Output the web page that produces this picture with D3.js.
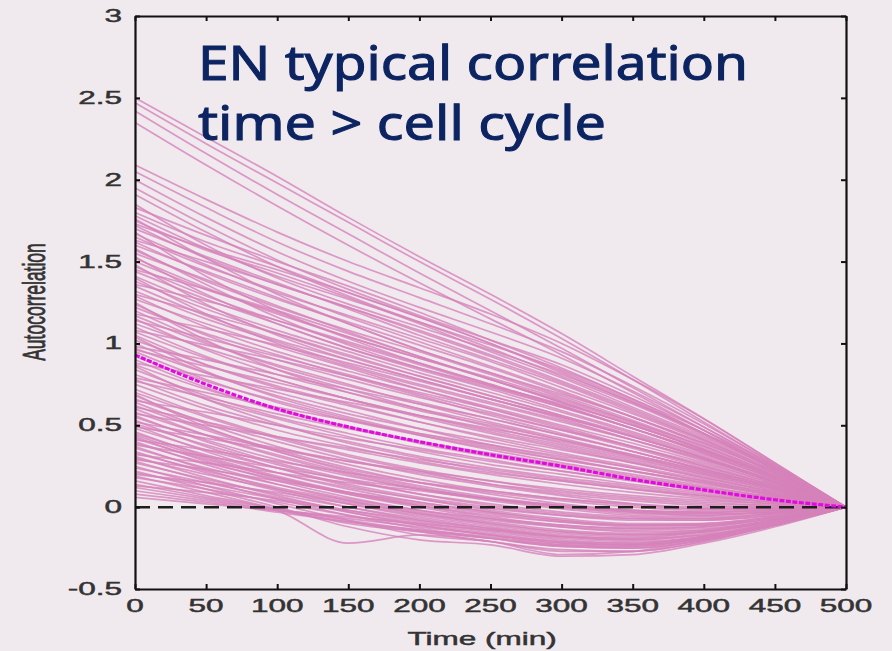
<!DOCTYPE html>
<html>
<head>
    <meta charset="utf-8" />
    <script src="https://cdn.jsdelivr.net/npm/d3@7/dist/d3.min.js"></script>
    <style>
        body { margin: 0; background: #f0e9ee; }
        svg { display: block; }
        .lbl { font-family: "Liberation Sans", Arial, sans-serif; font-size: 17.5px; fill: #333; stroke: #333; stroke-width: 0.45px; }
        .title { font-family: "Comic Sans MS", "Noto Sans", sans-serif; font-size: 48px; fill: #0c2461; stroke: #0c2461; stroke-width: 1px; }
    </style>
</head>
<body>
<script>
    // lag times (min) at which every trace is sampled
    var lags = [0, 50, 100, 150, 200, 250, 300, 350, 400, 450, 500];
    var xTicks = [0, 50, 100, 150, 200, 250, 300, 350, 400, 450, 500];
    var yTicks = [-0.5, 0, 0.5, 1, 1.5, 2, 2.5, 3];

    // highest starting traces
    var topTraces = [
        [2.50, 2.26, 2.02, 1.77, 1.53, 1.30, 1.06, 0.80, 0.54, 0.27, 0],
        [2.47, 2.22, 1.98, 1.74, 1.50, 1.27, 1.03, 0.78, 0.52, 0.26, 0],
        [2.42, 2.16, 1.91, 1.67, 1.43, 1.20, 0.97, 0.73, 0.49, 0.25, 0],
        [2.35, 2.09, 1.84, 1.60, 1.37, 1.15, 0.93, 0.70, 0.47, 0.23, 0],
        [2.09, 1.88, 1.68, 1.50, 1.34, 1.18, 1.00, 0.78, 0.54, 0.27, 0],
        [2.05, 1.83, 1.62, 1.44, 1.28, 1.12, 0.95, 0.74, 0.51, 0.26, 0],
        [2.00, 1.77, 1.56, 1.38, 1.22, 1.07, 0.91, 0.71, 0.49, 0.25, 0],
        [1.95, 1.72, 1.51, 1.33, 1.17, 1.02, 0.87, 0.68, 0.47, 0.24, 0],
        [1.91, 1.68, 1.47, 1.29, 1.13, 0.99, 0.84, 0.66, 0.45, 0.23, 0]
    ];

    // traces starting between about 1.85 and 1.3
    var upperTraces = [
        [1.83, 1.66, 1.50, 1.35, 1.19, 1.02, 0.85, 0.66, 0.47, 0.25, 0],
        [1.80, 1.62, 1.47, 1.31, 1.16, 1.00, 0.82, 0.64, 0.45, 0.24, 0],
        [1.78, 1.58, 1.41, 1.27, 1.13, 0.97, 0.80, 0.63, 0.44, 0.23, 0],
        [1.76, 1.52, 1.30, 1.12, 0.96, 0.82, 0.69, 0.55, 0.39, 0.21, 0],
        [1.75, 1.57, 1.43, 1.28, 1.12, 0.95, 0.79, 0.61, 0.43, 0.23, 0],
        [1.72, 1.52, 1.36, 1.22, 1.08, 0.93, 0.77, 0.60, 0.42, 0.22, 0],
        [1.70, 1.53, 1.37, 1.21, 1.05, 0.90, 0.75, 0.58, 0.41, 0.22, 0],
        [1.68, 1.41, 1.20, 1.04, 0.91, 0.79, 0.66, 0.52, 0.37, 0.19, 0],
        [1.67, 1.48, 1.31, 1.17, 1.03, 0.89, 0.73, 0.57, 0.40, 0.21, 0],
        [1.65, 1.47, 1.32, 1.16, 1.01, 0.86, 0.71, 0.55, 0.39, 0.21, 0],
        [1.62, 1.43, 1.27, 1.13, 0.99, 0.85, 0.70, 0.55, 0.38, 0.20, 0],
        [1.60, 1.44, 1.28, 1.12, 0.96, 0.82, 0.68, 0.53, 0.37, 0.20, 0],
        [1.58, 1.36, 1.16, 0.99, 0.85, 0.73, 0.61, 0.48, 0.34, 0.18, 0],
        [1.57, 1.38, 1.22, 1.08, 0.95, 0.81, 0.67, 0.52, 0.36, 0.19, 0],
        [1.55, 1.39, 1.23, 1.07, 0.92, 0.78, 0.65, 0.51, 0.35, 0.19, 0],
        [1.52, 1.34, 1.18, 1.04, 0.91, 0.78, 0.64, 0.50, 0.35, 0.18, 0],
        [1.50, 1.33, 1.19, 1.03, 0.88, 0.75, 0.62, 0.48, 0.34, 0.18, 0],
        [1.48, 1.24, 1.05, 0.90, 0.78, 0.66, 0.55, 0.43, 0.30, 0.16, 0],
        [1.47, 1.29, 1.14, 1.00, 0.87, 0.74, 0.61, 0.48, 0.33, 0.17, 0],
        [1.44, 1.27, 1.12, 0.97, 0.84, 0.72, 0.59, 0.46, 0.32, 0.17, 0],
        [1.41, 1.23, 1.08, 0.95, 0.82, 0.70, 0.58, 0.45, 0.31, 0.16, 0],
        [1.38, 1.21, 1.06, 0.92, 0.80, 0.68, 0.56, 0.44, 0.30, 0.16, 0],
        [1.36, 1.26, 1.14, 1.01, 0.88, 0.75, 0.62, 0.48, 0.33, 0.17, 0],
        [1.35, 1.17, 1.02, 0.90, 0.78, 0.66, 0.55, 0.43, 0.30, 0.15, 0],
        [1.32, 1.15, 1.01, 0.87, 0.75, 0.64, 0.53, 0.41, 0.29, 0.15, 0]
    ];

    // traces starting between about 1.3 and 0.75
    var middleTraces = [
        [1.29, 1.10, 0.95, 0.83, 0.72, 0.61, 0.50, 0.39, 0.27, 0.14, 0],
        [1.27, 1.12, 0.98, 0.85, 0.72, 0.60, 0.48, 0.37, 0.26, 0.13, 0],
        [1.24, 1.05, 0.90, 0.78, 0.67, 0.57, 0.47, 0.37, 0.25, 0.13, 0],
        [1.22, 1.06, 0.93, 0.80, 0.68, 0.56, 0.45, 0.34, 0.23, 0.12, 0],
        [1.20, 1.01, 0.86, 0.74, 0.64, 0.54, 0.44, 0.34, 0.23, 0.12, 0],
        [1.18, 1.09, 0.99, 0.88, 0.77, 0.66, 0.54, 0.41, 0.28, 0.14, 0],
        [1.17, 1.00, 0.87, 0.75, 0.63, 0.52, 0.42, 0.32, 0.22, 0.11, 0],
        [1.15, 0.96, 0.81, 0.70, 0.60, 0.51, 0.41, 0.31, 0.21, 0.11, 0],
        [1.12, 0.97, 0.84, 0.72, 0.60, 0.49, 0.39, 0.30, 0.20, 0.10, 0],
        [1.10, 0.92, 0.78, 0.66, 0.56, 0.47, 0.38, 0.29, 0.20, 0.10, 0],
        [1.08, 0.99, 0.90, 0.80, 0.70, 0.60, 0.49, 0.37, 0.25, 0.13, 0],
        [1.07, 0.91, 0.78, 0.66, 0.55, 0.45, 0.36, 0.27, 0.18, 0.09, 0],
        [1.05, 0.87, 0.73, 0.62, 0.52, 0.43, 0.35, 0.27, 0.18, 0.09, 0],
        [1.02, 0.87, 0.74, 0.63, 0.52, 0.42, 0.33, 0.25, 0.17, 0.08, 0],
        [1.00, 0.82, 0.68, 0.57, 0.48, 0.40, 0.32, 0.24, 0.16, 0.08, 0],
        [0.98, 0.90, 0.81, 0.72, 0.63, 0.54, 0.44, 0.34, 0.23, 0.12, 0],
        [0.97, 0.82, 0.70, 0.59, 0.48, 0.38, 0.30, 0.22, 0.15, 0.07, 0],
        [0.95, 0.78, 0.64, 0.53, 0.44, 0.36, 0.29, 0.22, 0.14, 0.07, 0],
        [0.92, 0.77, 0.65, 0.54, 0.44, 0.35, 0.27, 0.20, 0.13, 0.06, 0],
        [0.90, 0.73, 0.59, 0.49, 0.40, 0.33, 0.26, 0.19, 0.12, 0.06, 0],
        [0.88, 0.80, 0.72, 0.64, 0.56, 0.48, 0.40, 0.31, 0.21, 0.11, 0],
        [0.87, 0.72, 0.60, 0.49, 0.39, 0.31, 0.24, 0.17, 0.11, 0.05, 0],
        [0.84, 0.68, 0.55, 0.45, 0.36, 0.29, 0.22, 0.16, 0.10, 0.05, 0],
        [0.81, 0.66, 0.54, 0.43, 0.34, 0.26, 0.20, 0.14, 0.09, 0.04, 0],
        [0.79, 0.70, 0.61, 0.53, 0.45, 0.38, 0.31, 0.24, 0.16, 0.08, 0],
        [0.78, 0.62, 0.50, 0.40, 0.31, 0.24, 0.18, 0.13, 0.08, 0.04, 0],
        [0.75, 0.60, 0.47, 0.37, 0.28, 0.21, 0.16, 0.11, 0.07, 0.03, 0]
    ];

    // low starting traces, most of them dipping below zero
    var lowerTraces = [
        [0.72, 0.56, 0.43, 0.32, 0.23, 0.16, 0.10, 0.06, 0.03, 0.01, 0],
        [0.70, 0.55, 0.42, 0.31, 0.22, 0.14, 0.08, 0.04, 0.01, 0.00, 0],
        [0.68, 0.51, 0.37, 0.26, 0.17, 0.10, 0.05, 0.01, -0.01, -0.01, 0],
        [0.66, 0.52, 0.40, 0.29, 0.20, 0.13, 0.07, 0.02, -0.01, -0.01, 0],
        [0.65, 0.58, 0.50, 0.42, 0.35, 0.28, 0.22, 0.16, 0.10, 0.05, 0],
        [0.64, 0.48, 0.35, 0.24, 0.15, 0.08, 0.02, -0.02, -0.04, -0.03, 0],
        [0.62, 0.47, 0.34, 0.23, 0.15, 0.09, 0.04, 0.00, -0.02, -0.02, 0],
        [0.60, 0.44, 0.31, 0.20, 0.11, 0.04, -0.01, -0.05, -0.06, -0.04, 0],
        [0.58, 0.44, 0.32, 0.21, 0.12, 0.05, 0.00, -0.03, -0.05, -0.03, 0],
        [0.57, 0.50, 0.43, 0.36, 0.29, 0.23, 0.17, 0.12, 0.07, 0.03, 0],
        [0.56, 0.40, 0.27, 0.17, 0.08, 0.01, -0.04, -0.07, -0.08, -0.05, 0],
        [0.55, 0.41, 0.29, 0.19, 0.11, 0.05, 0.01, -0.02, -0.03, -0.02, 0],
        [0.53, 0.37, 0.24, 0.13, 0.05, -0.02, -0.07, -0.10, -0.10, -0.06, 0],
        [0.51, 0.38, 0.26, 0.16, 0.08, 0.02, -0.03, -0.06, -0.07, -0.04, 0],
        [0.50, 0.34, 0.21, 0.11, 0.03, -0.03, -0.08, -0.11, -0.11, -0.07, 0],
        [0.49, 0.42, 0.35, 0.28, 0.22, 0.16, 0.11, 0.07, 0.04, 0.02, 0],
        [0.48, 0.35, 0.24, 0.14, 0.06, 0.00, -0.05, -0.08, -0.08, -0.05, 0],
        [0.46, 0.31, 0.19, 0.09, 0.01, -0.06, -0.11, -0.13, -0.12, -0.07, 0],
        [0.45, 0.32, 0.21, 0.12, 0.05, -0.01, -0.05, -0.07, -0.07, -0.04, 0],
        [0.43, 0.28, 0.16, 0.06, -0.02, -0.08, -0.12, -0.14, -0.13, -0.08, 0],
        [0.42, 0.29, 0.18, 0.09, 0.02, -0.04, -0.09, -0.12, -0.11, -0.06, 0],
        [0.41, 0.35, 0.28, 0.21, 0.15, 0.10, 0.05, 0.02, 0.00, 0.00, 0],
        [0.40, 0.26, 0.14, 0.04, -0.04, -0.10, -0.15, -0.17, -0.15, -0.09, 0],
        [0.39, 0.27, 0.17, 0.08, 0.01, -0.05, -0.09, -0.11, -0.10, -0.06, 0],
        [0.37, 0.23, 0.11, 0.02, -0.06, -0.12, -0.17, -0.19, -0.17, -0.10, 0],
        [0.36, 0.24, 0.14, 0.05, -0.02, -0.07, -0.11, -0.13, -0.12, -0.07, 0],
        [0.34, 0.21, 0.10, 0.00, -0.08, -0.14, -0.19, -0.21, -0.18, -0.10, 0],
        [0.33, 0.22, 0.12, 0.04, -0.03, -0.09, -0.14, -0.16, -0.14, -0.08, 0],
        [0.32, 0.27, 0.21, 0.15, 0.10, 0.05, 0.01, -0.02, -0.03, -0.02, 0],
        [0.31, 0.18, 0.07, -0.03, -0.11, -0.17, -0.22, -0.23, -0.19, -0.10, 0],
        [0.30, 0.20, 0.11, 0.03, -0.04, -0.10, -0.15, -0.17, -0.15, -0.08, 0],
        [0.28, 0.16, 0.05, -0.05, -0.13, -0.19, -0.24, -0.25, -0.20, -0.11, 0],
        [0.27, 0.17, 0.08, 0.00, -0.07, -0.13, -0.18, -0.20, -0.17, -0.09, 0],
        [0.25, 0.13, 0.02, -0.08, -0.17, -0.21, -0.27, -0.27, -0.21, -0.11, 0],
        [0.24, 0.15, 0.06, -0.02, -0.09, -0.15, -0.20, -0.22, -0.18, -0.10, 0],
        [0.22, 0.11, 0.00, -0.12, -0.20, -0.23, -0.30, -0.29, -0.22, -0.12, 0],
        [0.21, 0.13, 0.05, -0.03, -0.10, -0.16, -0.21, -0.23, -0.19, -0.10, 0],
        [0.19, 0.09, -0.01, -0.10, -0.15, -0.19, -0.23, -0.24, -0.19, -0.10, 0],
        [0.18, 0.11, 0.03, -0.05, -0.11, -0.17, -0.22, -0.23, -0.18, -0.10, 0],
        [0.16, 0.07, -0.02, -0.22, -0.17, -0.21, -0.29, -0.27, -0.20, -0.11, 0],
        [0.14, 0.06, -0.01, -0.08, -0.14, -0.19, -0.24, -0.25, -0.20, -0.11, 0],
        [0.12, 0.05, -0.02, -0.09, -0.15, -0.21, -0.26, -0.27, -0.21, -0.11, 0],
        [0.10, 0.04, -0.02, -0.07, -0.12, -0.17, -0.21, -0.22, -0.18, -0.09, 0],
        [0.08, 0.03, -0.03, -0.09, -0.14, -0.18, -0.23, -0.24, -0.19, -0.10, 0],
        [0.06, 0.02, -0.02, -0.06, -0.10, -0.14, -0.18, -0.19, -0.15, -0.08, 0]
    ];

    // traces that cross their neighbours (flatter or steeper starts)
    var crossingTraces = [
        [1.85, 1.60, 1.40, 1.24, 1.10, 0.96, 0.81, 0.64, 0.45, 0.24, 0],
        [1.73, 1.58, 1.45, 1.31, 1.16, 1.00, 0.83, 0.65, 0.45, 0.23, 0],
        [1.63, 1.50, 1.36, 1.22, 1.07, 0.92, 0.76, 0.59, 0.41, 0.21, 0],
        [1.53, 1.30, 1.12, 0.97, 0.85, 0.74, 0.63, 0.50, 0.35, 0.18, 0],
        [1.45, 1.33, 1.20, 1.06, 0.92, 0.78, 0.64, 0.50, 0.35, 0.18, 0],
        [1.40, 1.18, 1.00, 0.86, 0.74, 0.63, 0.52, 0.41, 0.29, 0.15, 0],
        [1.30, 1.18, 1.06, 0.93, 0.80, 0.68, 0.56, 0.43, 0.30, 0.15, 0],
        [1.25, 1.02, 0.84, 0.70, 0.59, 0.50, 0.41, 0.32, 0.22, 0.11, 0],
        [1.14, 1.03, 0.92, 0.81, 0.69, 0.58, 0.47, 0.36, 0.24, 0.12, 0],
        [1.04, 0.83, 0.67, 0.55, 0.45, 0.37, 0.29, 0.22, 0.15, 0.07, 0],
        [0.96, 0.86, 0.76, 0.66, 0.56, 0.46, 0.37, 0.28, 0.19, 0.09, 0],
        [0.86, 0.66, 0.51, 0.39, 0.30, 0.22, 0.16, 0.11, 0.06, 0.03, 0],
        [0.77, 0.67, 0.57, 0.48, 0.40, 0.32, 0.25, 0.18, 0.12, 0.06, 0],
        [0.69, 0.49, 0.34, 0.22, 0.13, 0.06, 0.01, -0.03, -0.04, -0.03, 0],
        [0.61, 0.52, 0.43, 0.35, 0.27, 0.20, 0.14, 0.09, 0.05, 0.02, 0],
        [0.52, 0.44, 0.36, 0.28, 0.21, 0.14, 0.09, 0.05, 0.02, 0.01, 0],
        [0.44, 0.30, 0.18, 0.08, 0.00, -0.07, -0.12, -0.15, -0.14, -0.08, 0],
        [0.38, 0.31, 0.24, 0.17, 0.11, 0.05, 0.00, -0.04, -0.05, -0.03, 0],
        [0.29, 0.23, 0.16, 0.09, 0.03, -0.03, -0.08, -0.11, -0.11, -0.06, 0],
        [0.20, 0.15, 0.09, 0.02, -0.05, -0.11, -0.16, -0.18, -0.15, -0.08, 0],
        [0.13, 0.09, 0.04, -0.02, -0.08, -0.13, -0.18, -0.20, -0.16, -0.08, 0]
    ];

    // average of all traces (magenta dotted)
    var meanTrace = [0.93, 0.75, 0.60, 0.49, 0.40, 0.32, 0.25, 0.17, 0.105, 0.045, 0];

    var titleLines = ["EN typical correlation", "time > cell cycle"];

    var width = 892,
        height = 651;

    var x = d3.scaleLinear().domain([0, 500]).range([135, 846]);
    var y = d3.scaleLinear().domain([-0.5, 3]).range([589, 16]);

    var svg = d3.select("body").append("svg")
        .attr("width", width)
        .attr("height", height);

    svg.append("rect")
        .attr("width", width)
        .attr("height", height)
        .attr("fill", "#f0e9ee");

    var line = d3.line()
        .x(function (d, i) { return x(lags[i]); })
        .y(function (d) { return y(d); })
        .curve(d3.curveMonotoneX);

    var traces = topTraces.concat(upperTraces, middleTraces, lowerTraces, crossingTraces);

    svg.append("g")
        .selectAll("path")
        .data(traces)
        .enter().append("path")
        .attr("d", line)
        .attr("fill", "none")
        .attr("stroke", "#d682ba")
        .attr("stroke-opacity", 0.8)
        .attr("stroke-width", 1.7);

    // zero line
    svg.append("line")
        .attr("x1", x(0)).attr("x2", x(500))
        .attr("y1", y(0)).attr("y2", y(0))
        .attr("stroke", "#1e1e1e")
        .attr("stroke-width", 2.5)
        .attr("stroke-dasharray", "15,8");

    svg.append("path")
        .datum(meanTrace)
        .attr("d", line)
        .attr("fill", "none")
        .attr("stroke", "#e10ae0")
        .attr("stroke-width", 3.2)
        .attr("stroke-dasharray", "5,1.5");

    // frame with inward ticks on all four sides
    function frame(g) {
        g.select(".domain").attr("stroke", "#111").attr("stroke-width", 2.2);
        g.selectAll(".tick line").attr("stroke", "#111").attr("stroke-width", 2);
    }
    svg.append("g").attr("transform", "translate(0," + y(-0.5) + ")")
        .call(d3.axisBottom(x).tickValues(xTicks).tickSize(-5).tickSizeOuter(0).tickFormat(""))
        .call(frame);
    svg.append("g").attr("transform", "translate(0," + y(3) + ")")
        .call(d3.axisTop(x).tickValues(xTicks).tickSize(-5).tickSizeOuter(0).tickFormat(""))
        .call(frame);
    svg.append("g").attr("transform", "translate(" + x(0) + ",0)")
        .call(d3.axisLeft(y).tickValues(yTicks).tickSize(-5).tickSizeOuter(0).tickFormat(""))
        .call(frame);
    svg.append("g").attr("transform", "translate(" + x(500) + ",0)")
        .call(d3.axisRight(y).tickValues(yTicks).tickSize(-5).tickSizeOuter(0).tickFormat(""))
        .call(frame);

    // tick labels (the original figure is stretched sideways)
    svg.append("g").selectAll("text")
        .data(xTicks)
        .enter().append("text")
        .attr("class", "lbl")
        .attr("transform", function (d) { return "translate(" + x(d) + ",612) scale(1.8,1)"; })
        .attr("text-anchor", "middle")
        .text(function (d) { return d; });

    svg.append("g").selectAll("text")
        .data(yTicks)
        .enter().append("text")
        .attr("class", "lbl")
        .attr("transform", function (d) { return "translate(122," + (y(d) + 6) + ") scale(1.8,1)"; })
        .attr("text-anchor", "end")
        .text(function (d) { return d; });

    svg.append("text")
        .attr("class", "lbl")
        .attr("transform", "translate(482,645) scale(1.8,1)")
        .attr("text-anchor", "middle")
        .text("Time (min)");

    svg.append("text")
        .attr("class", "lbl")
        .attr("transform", "translate(45,302) scale(1.8,1) rotate(-90)")
        .attr("text-anchor", "middle")
        .text("Autocorrelation");

    svg.append("g").selectAll("text")
        .data(titleLines)
        .enter().append("text")
        .attr("class", "title")
        .attr("x", 198)
        .attr("y", function (d, i) { return 80 + i * 60; })
        .attr("textLength", function (d, i) { return i === 0 ? 550 : 408; })
        .attr("lengthAdjust", "spacingAndGlyphs")
        .text(function (d) { return d; });
</script>
</body>
</html>
